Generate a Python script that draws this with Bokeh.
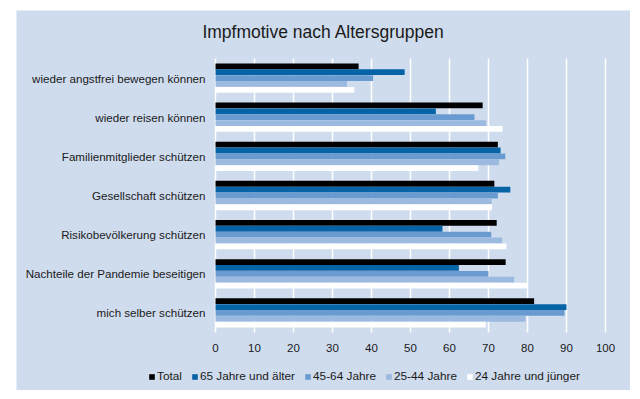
from bokeh.plotting import figure
from bokeh.models import ColumnDataSource, Range1d, Legend
from bokeh.core.properties import value
from bokeh.transform import dodge
from bokeh.embed import file_html
from bokeh.resources import INLINE

categories = [
    "wieder angstfrei bewegen können",
    "wieder reisen können",
    "Familienmitglieder schützen",
    "Gesellschaft schützen",
    "Risikobevölkerung schützen",
    "Nachteile der Pandemie beseitigen",
    "mich selber schützen",
]
series_names = ["Total", "65 Jahre und älter", "45-64 Jahre", "25-44 Jahre", "24 Jahre und jünger"]
total = [36.7, 68.5, 72.4, 71.5, 72.1, 74.4, 81.7]
age_65 = [48.5, 56.5, 73.1, 75.6, 58.2, 62.4, 90.0]
age_45 = [40.4, 66.4, 74.3, 72.4, 70.7, 70.0, 89.5]
age_25 = [33.7, 69.4, 72.7, 70.8, 73.5, 76.6, 79.5]
age_24 = [35.6, 73.6, 67.4, 70.9, 74.6, 79.9, 69.3]
x_ticks = [0, 10, 20, 30, 40, 50, 60, 70, 80, 90, 100]
title_text = "Impfmotive nach Altersgruppen"

colors = ["#000000", "#0563a6", "#6a9bd0", "#9cb9df", "#ffffff"]
BG = "#cfdcee"
FONT = "Liberation Sans"
TXT = "#1a1a1a"

# panel / plotting-area geometry (pixels)
W, H = 614, 380
LEFT, RIGHT, TOP, BOTTOM = 199, 25, 48, 58   # plotting area inside panel
n = len(categories)
px_x = (W - LEFT - RIGHT) / 100.0
px_y = (H - TOP - BOTTOM) / n
x_start = -LEFT / px_x
x_end = 100 + RIGHT / px_x
y_start = -0.5 - BOTTOM / px_y
y_end = n - 0.5 + TOP / px_y

ypos = [n - 1 - i for i in range(n)]
source = ColumnDataSource(dict(cat=categories, y=ypos, s0=total, s1=age_65, s2=age_45, s3=age_25, s4=age_24))

p = figure(
    width=W, height=H,
    x_range=Range1d(x_start, x_end), y_range=Range1d(y_start, y_end),
    x_axis_location=None, y_axis_location=None,
    output_backend="svg", toolbar_location=None,
    min_border_left=0, min_border_right=0, min_border_top=0, min_border_bottom=0,
)
p.margin = (10, 10, 9, 16)
p.background_fill_color = BG
p.border_fill_color = BG
p.outline_line_color = None
p.grid.visible = False

# vertical grid lines
p.segment(x0=x_ticks, x1=x_ticks, y0=[-0.5] * len(x_ticks), y1=[n - 0.5] * len(x_ticks),
          line_color="white", line_width=1.5)

bar_h = 0.148
offsets = [0.30, 0.15, 0.0, -0.15, -0.30]
renderers = []
for i, col in enumerate(colors):
    r = p.hbar(
        y=dodge("y", offsets[i]), right="s%d" % i, left=0,
        height=bar_h, source=source, fill_color=col, line_color=None,
    )
    renderers.append(r)

# category labels
p.text(x=0, y="y", text="cat", source=source, x_offset=-10,
       text_align="right", text_baseline="middle",
       text_font=value(FONT), text_font_size=value("11.6px"), text_color=TXT)

# x tick labels
p.text(x=x_ticks, y=[-0.5] * len(x_ticks), text=[str(t) for t in x_ticks], y_offset=15,
       text_align="center", text_baseline="middle",
       text_font=value(FONT), text_font_size=value("11.5px"), text_color=TXT)

# title
p.text(x=[(x_start + x_end) / 2], y=[y_end], text=[title_text], y_offset=21,
       text_align="center", text_baseline="middle",
       text_font=value(FONT), text_font_size=value("17.5px"), text_color=TXT)

lg = Legend(items=[(nm, [r]) for nm, r in zip(series_names, renderers)])
lg.orientation = "horizontal"
lg.location = (132, 7)
lg.background_fill_alpha = 0
lg.border_line_color = None
lg.padding = 0
lg.margin = 0
lg.spacing = 9
lg.glyph_width = 7
lg.glyph_height = 7
lg.label_standoff = 2
lg.label_text_font = FONT
lg.label_text_font_size = "11.8px"
lg.label_text_color = TXT
lg.label_height = 12
p.add_layout(lg, "center")

open("out.html", "w").write(file_html(p, INLINE))
